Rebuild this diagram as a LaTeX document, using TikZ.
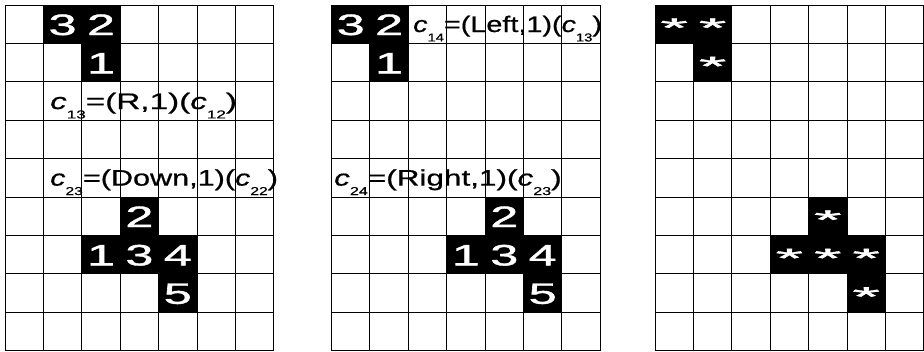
\documentclass[tikz,border=0pt]{standalone}
\usepackage{fontspec}
\setmainfont{Liberation Sans}
\newfontfamily\heavyfont[FakeBold=1.2]{Liberation Sans}
\newfontfamily\midfont[FakeBold=0.6,ItalicFeatures={FakeBold=0.6}]{Liberation Sans}
\usetikzlibrary{positioning}

\newcommand{\csub}[1]{\raisebox{-0.42em}{\fontsize{11.5}{11.5}\selectfont #1}}
\newcommand{\cn}[1]{\textit{c}\csub{#1}}
\newcommand{\wide}[2][1.7]{\scalebox{#1}[1]{#2}}

\begin{document}
\begin{tikzpicture}[
  x=1pt, y=-1pt,
  gridline/.style={draw=black, line width=0.9pt},
  digit/.style={anchor=base, inner sep=0pt, text=white, font=\heavyfont\fontsize{29.5}{29.5}\selectfont},
  star/.style={anchor=base, inner sep=0pt, text=white, font=\heavyfont\fontsize{27}{27}\selectfont},
  rule/.style={anchor=base west, inner sep=0pt, font=\midfont\fontsize{22.5}{22.5}\selectfont}
]
\useasboundingbox (0,0) rectangle (924,351);
\def\cs{38.4}

% black cells (grid x / column / row)
\foreach \gx/\c/\r in {5/1/0, 5/2/0, 5/2/1, 5/3/5, 5/2/6, 5/3/6, 5/4/6, 5/4/7,
  331.5/0/0, 331.5/1/0, 331.5/1/1, 331.5/4/5, 331.5/3/6, 331.5/4/6, 331.5/5/6, 331.5/5/7,
  655/0/0, 655/1/0, 655/1/1, 655/4/5, 655/3/6, 655/4/6, 655/5/6, 655/5/7}
  \fill (\gx+\c*\cs, 5+\r*\cs) rectangle ++(\cs,\cs);

% the three 7x9 grids
\foreach \gx in {5,331.5,655}{
  \foreach \i in {0,...,7}
    \draw[gridline] (\gx+\i*\cs,5) -- (\gx+\i*\cs,5+9*\cs);
  \foreach \j in {0,...,9}
    \draw[gridline] (\gx,5+\j*\cs) -- (\gx+7*\cs,5+\j*\cs);
}

% pixel numbers
\foreach \gx/\c/\r/\t [count=\k] in {5/1/0/3, 5/2/0/2, 5/2/1/1, 5/3/5/2, 5/2/6/1, 5/3/6/3, 5/4/6/4, 5/4/7/5,
  331.5/0/0/3, 331.5/1/0/2, 331.5/1/1/1, 331.5/4/5/2, 331.5/3/6/1, 331.5/4/6/3, 331.5/5/6/4, 331.5/5/7/5}
  \node[digit] (d\k) at (\gx+\c*\cs+\cs/2, 5+\r*\cs+30) {\wide{\t}};

% merged pixels
\foreach \c/\r [count=\k] in {0/0, 1/0, 1/1, 4/5, 3/6, 4/6, 5/6, 5/7}
  \node[star] (s\k) at (655+\c*\cs+\cs/2, 5+\r*\cs+32) {\wide[2.6]{*}};

% chain codes
\node[rule] (c13) at (50,109) {\wide[1.48]{\cn{13}=(R,1)(\cn{12})}};
\node[rule] (c23) at (50,185.6) {\wide[1.36]{\cn{23}=(Down,1)(\cn{22})}};
\node[rule] (c14) at (413,32) {\wide[1.28]{\cn{14}=(Left,1)(\cn{13})}};
\node[rule] (c24) at (334,185.6) {\wide[1.4]{\cn{24}=(Right,1)(\cn{23})}};
\end{tikzpicture}
\end{document}
